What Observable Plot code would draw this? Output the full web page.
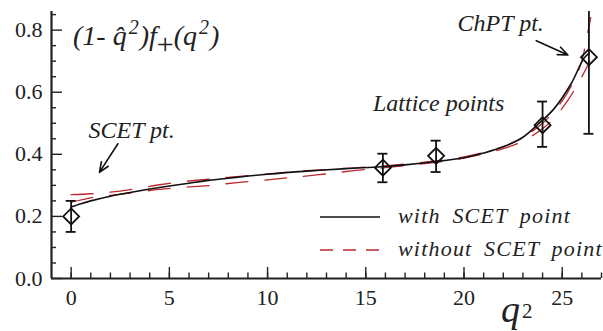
<!DOCTYPE html>
<html>
<head>
<meta charset="utf-8">
<script src="https://cdn.jsdelivr.net/npm/d3@7"></script>
<script src="https://cdn.jsdelivr.net/npm/@observablehq/plot@0.6"></script>
<style>
  html, body { margin: 0; padding: 0; background: #fff; }
  #chart { width: 603px; height: 331px; }
</style>
</head>
<body>
<div id="chart"></div>
<script>
// ---- data ----
const xTickLabels = [0, 5, 10, 15, 20, 25];
const yTickLabels = [0.0, 0.2, 0.4, 0.6, 0.8];
const xMinorTicks = d3.range(0, 28, 1);
const yMinorTicks = [0.05, 0.1, 0.15, 0.25, 0.3, 0.35, 0.45, 0.5, 0.55, 0.65, 0.7, 0.75, 0.85];

// fit with SCET point (solid black)
const withQ = [0, 0.5, 1, 2, 3, 4, 5, 6, 7, 8, 10, 12, 14, 15.8, 17, 18.5, 20, 21, 22, 23, 23.76, 24.6, 25.46, 26.1, 26.36];
const withF = [0.230, 0.241, 0.250, 0.265, 0.277, 0.288, 0.298, 0.307, 0.316, 0.323, 0.336, 0.346, 0.354, 0.360, 0.366, 0.376, 0.389, 0.404, 0.424, 0.455, 0.496, 0.548, 0.628, 0.709, 0.725];

// fits without SCET point (red dashed, two curves)
const woAQ = [0, 1, 2, 3, 4.5, 6, 7, 8, 10, 12, 14, 16, 18, 20, 22, 23, 24, 25, 25.5, 26, 26.2, 26.45];
const woAF = [0.270, 0.273, 0.278, 0.286, 0.302, 0.314, 0.320, 0.326, 0.337, 0.347, 0.355, 0.363, 0.375, 0.392, 0.425, 0.455, 0.500, 0.572, 0.625, 0.700, 0.760, 0.840];
const woBQ = [0, 1, 2, 3, 4.5, 6, 7, 8, 9, 10.5, 11.5, 13, 14.5, 16, 18, 20, 22, 23, 24, 24.6, 25.3, 26, 26.4];
const woBF = [0.246, 0.260, 0.268, 0.275, 0.287, 0.295, 0.299, 0.306, 0.312, 0.321, 0.327, 0.337, 0.348, 0.357, 0.370, 0.388, 0.418, 0.443, 0.482, 0.518, 0.575, 0.650, 0.700];

// data points: SCET, lattice (3), ChPT
const ptQ  = [0, 15.87, 18.58, 24.0, 26.36];
const ptF  = [0.200, 0.357, 0.395, 0.494, 0.713];
const ptLo = [0.150, 0.310, 0.343, 0.424, 0.466];
const ptHi = [0.250, 0.402, 0.444, 0.570, 0.970];

// annotations
const noteText = ["SCET pt.", "Lattice points", "ChPT pt."];
const noteQ = [3.08, 18.71, 21.87];
const noteF = [0.478, 0.564, 0.822];
const arrowQ1 = [2.38, 23.68], arrowF1 = [0.434, 0.766];
const arrowQ2 = [1.44, 25.29], arrowF2 = [0.342, 0.720];

const legendLabels = ["with SCET point", "without SCET point"];

// ---- build tables ----
const withData = withQ.map((q, i) => ({q, f: withF[i]}));
const woA = woAQ.map((q, i) => ({q, f: woAF[i]}));
const woB = woBQ.map((q, i) => ({q, f: woBF[i]}));
const pts = ptQ.map((q, i) => ({q, f: ptF[i], lo: ptLo[i], hi: ptHi[i]}));
const notes = noteText.map((t, i) => ({t, q: noteQ[i], f: noteF[i]}));
const arrows = arrowQ1.map((q, i) => ({x1: q, y1: arrowF1[i], x2: arrowQ2[i], y2: arrowF2[i]}));

const W = 603, H = 331;
const mL = 51, mR = 2, mT = 11, mB = 53;
const fw = W - mL - mR, fh = H - mT - mB;
const AX = "#222";
const RED = "#b8282e";
const serif = "'Liberation Serif', 'Times New Roman', serif";

const chart = Plot.plot({
  width: W, height: H,
  marginLeft: mL, marginRight: mR, marginTop: mT, marginBottom: mB,
  x: {domain: [-1, 27], axis: null},
  y: {domain: [0, 0.86], axis: null},
  style: {background: "#fff", fontFamily: serif},
  marks: [
    // curves
    Plot.line(woA, {x: "q", y: "f", stroke: RED, strokeWidth: 1.3, strokeDasharray: "22,17", curve: "catmull-rom", clip: true}),
    Plot.line(woB, {x: "q", y: "f", stroke: RED, strokeWidth: 1.3, strokeDasharray: "22,17", curve: "catmull-rom", clip: true}),
    Plot.line(withData, {x: "q", y: "f", stroke: "#111", strokeWidth: 1.6, curve: "catmull-rom"}),
    // error bars
    Plot.ruleX(pts, {x: "q", y1: "lo", y2: "hi", stroke: "#111", strokeWidth: 1.8, clip: true}),
    Plot.ruleY(pts, {y: "lo", x1: "q", x2: "q", insetLeft: -5, insetRight: -5, stroke: "#111", strokeWidth: 1.8, clip: true}),
    Plot.ruleY(pts, {y: "hi", x1: "q", x2: "q", insetLeft: -5, insetRight: -5, stroke: "#111", strokeWidth: 1.8, clip: true}),
    Plot.dot(pts, {x: "q", y: "f", symbol: "diamond2", r: 7.2, stroke: "#111", strokeWidth: 1.8, fill: "none"}),
    // annotations
    Plot.text(notes, {x: "q", y: "f", text: "t", fontSize: 24, fontStyle: "italic", fill: "#222", fontFamily: serif}),
    Plot.arrow(arrows, {x1: "x1", y1: "y1", x2: "x2", y2: "y2", stroke: "#111", strokeWidth: 1.6, headLength: 10, headAngle: 45}),
    // axes
    Plot.ruleX(xMinorTicks, {x: d => d, insetTop: fh - 5.5, stroke: AX, strokeWidth: 1.4}),
    Plot.ruleX(xTickLabels, {x: d => d, insetTop: fh - 11, stroke: AX, strokeWidth: 1.4}),
    Plot.ruleY(yMinorTicks, {y: d => d, insetRight: fw - 5, stroke: AX, strokeWidth: 1.4}),
    Plot.ruleY(yTickLabels, {y: d => d, insetRight: fw - 11, stroke: AX, strokeWidth: 1.4}),
    Plot.ruleY([0], {stroke: AX, strokeWidth: 2.2}),
    Plot.ruleX([-1], {stroke: AX, strokeWidth: 2.2}),
    Plot.text(xTickLabels, {x: d => d, y: 0, text: d => String(d), dy: 19, fontSize: 22, fill: "#222", fontFamily: serif}),
    Plot.text(yTickLabels, {x: -1, y: d => d, text: d => d3.format(".1f")(d), dx: -9, textAnchor: "end", fontSize: 22, fill: "#222", fontFamily: serif})
  ]
});
document.getElementById("chart").appendChild(chart);

// ---- title, axis label, legend (SVG text) ----
const svg = d3.select(chart);
const title = svg.append("text")
  .attr("x", 73).attr("y", 45).attr("text-anchor", "start")
  .attr("font-family", serif).attr("font-style", "italic").attr("font-size", 28).attr("fill", "#222");
title.append("tspan").text("(1-");
title.append("tspan").attr("dx", 7).text("q\u0302");
title.append("tspan").attr("font-size", 20).attr("dy", -11).attr("dx", 2).text("2");
title.append("tspan").attr("dy", 11).attr("dx", 1).text(")f");
title.append("tspan").attr("font-size", 30).attr("font-style", "normal").attr("dy", 9).text("+");
title.append("tspan").attr("dy", -9).text("(q");
title.append("tspan").attr("font-size", 20).attr("dy", -11).attr("dx", 2).text("2");
title.append("tspan").attr("dy", 11).attr("dx", 1).text(")");

// axis label q^2
const ql = svg.append("text")
  .attr("x", 501).attr("y", 322).attr("text-anchor", "start")
  .attr("font-family", serif).attr("font-style", "italic").attr("font-size", 38).attr("fill", "#222");
ql.append("tspan").text("q");
ql.append("tspan").attr("font-size", 21).attr("font-style", "normal").attr("dy", -4).attr("dx", 2).text("2");

// legend
const lg = svg.append("g");
lg.append("line").attr("x1", 320).attr("x2", 380).attr("y1", 217).attr("y2", 217)
  .attr("stroke", "#111").attr("stroke-width", 1.6);
lg.append("line").attr("x1", 320).attr("x2", 380).attr("y1", 250).attr("y2", 250)
  .attr("stroke", RED).attr("stroke-width", 1.4).attr("stroke-dasharray", "13,10");
legendLabels.forEach((t, i) => {
  lg.append("text").attr("x", 398).attr("y", 223 + i * 32.5).attr("text-anchor", "start")
    .attr("font-family", serif).attr("font-style", "italic").attr("font-size", 22)
    .attr("letter-spacing", 1.2).attr("word-spacing", 5).attr("fill", "#222")
    .text(t);
});
</script>
</body>
</html>
